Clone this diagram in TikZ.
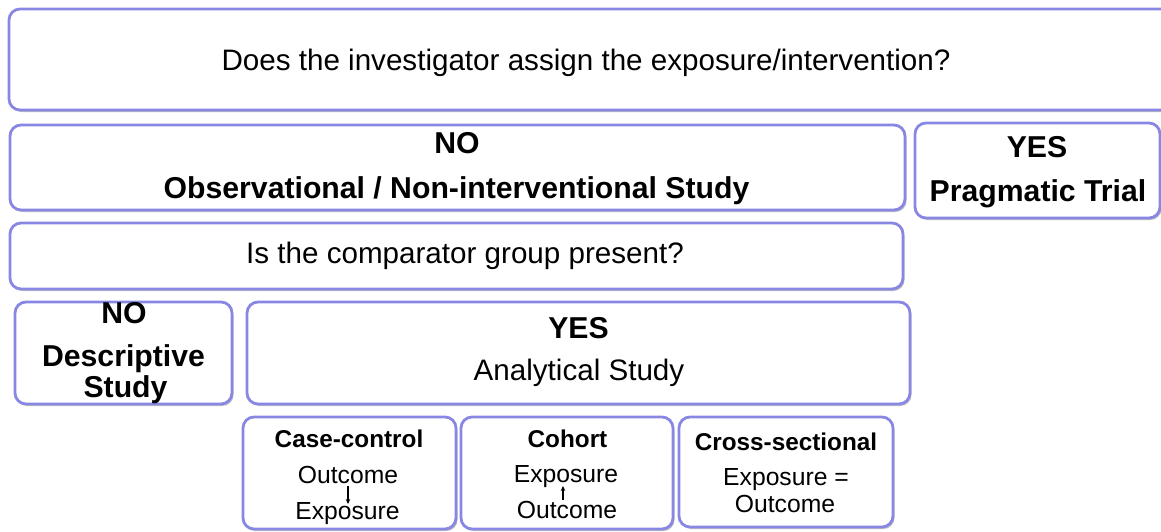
\documentclass[tikz,border=0pt]{standalone}
\usepackage{fontspec}
\setmainfont{Liberation Sans}
\usetikzlibrary{shadows,arrows.meta}
\definecolor{boxline}{RGB}{136,136,228}
\tikzset{
  box/.style={draw=boxline, line width=2.8pt, rounded corners=11pt, fill=white,
    drop shadow={shadow xshift=1.5pt, shadow yshift=-2pt, opacity=0.4, fill=black!60},
    inner sep=0pt},
  big/.style={anchor=base, inner sep=0pt, font=\fontsize{29.6}{33}\selectfont},
  bigb/.style={anchor=base, inner sep=0pt, font=\fontsize{30.2}{33}\selectfont\bfseries},
  small/.style={anchor=base, inner sep=0pt, font=\fontsize{24.7}{28}\selectfont},
  smallb/.style={anchor=base, inner sep=0pt, font=\fontsize{24.3}{28}\selectfont\bfseries},
  tinyarrow/.style={-{Stealth[length=5pt,width=4.5pt]}, line width=1.1pt}
}
\begin{document}
\begin{tikzpicture}[x=1pt,y=-1pt]
\useasboundingbox (0,0) rectangle (1161,531);
\clip (0,0) rectangle (1161,531);
\fill[white] (0,0) rectangle (1161,531);
% boxes
\node[box, minimum width=1166pt, minimum height=101pt] (top) at (592,59.5) {};
\node[box, minimum width=895pt, minimum height=85pt] (obs) at (457.5,167.5) {};
\node[box, minimum width=245pt, minimum height=95pt] (prag) at (1037.5,170.5) {};
\node[box, minimum width=893pt, minimum height=66pt] (comp) at (456.5,256) {};
\node[box, minimum width=217pt, minimum height=102pt] (desc) at (123.5,353) {};
\node[box, minimum width=663pt, minimum height=102pt] (anal) at (578.5,353) {};
\node[box, minimum width=213pt, minimum height=112pt] (cc) at (349.5,473) {};
\node[box, minimum width=212pt, minimum height=112pt] (coh) at (567,473) {};
\node[box, minimum width=214pt, minimum height=110pt] (cs) at (786,472) {};
% texts
\node[big] (q1) at (586,70) {Does the investigator assign the exposure/intervention?};
\node[bigb] (obsno) at (457,153) {NO};
\node[bigb] (obstxt) at (456.5,198) {Observational / Non-interventional Study};
\node[bigb] (pragyes) at (1037,157) {YES};
\node[bigb] (pragtxt) at (1038,201) {Pragmatic Trial};
\node[big] (q2) at (465,263) {Is the comparator group present?};
\node[bigb] (descno) at (124,323) {NO};
\node[bigb] (desc1) at (123.5,366) {Descriptive};
\node[bigb] (desc2) at (125.5,397) {Study};
\node[bigb] (analyes) at (578.5,338) {YES};
\node[big] (analtxt) at (579,380) {Analytical Study};
\node[smallb] (cct) at (349,447) {Case-control};
\node[small] (cco) at (348,483) {Outcome};
\node[small] (cce) at (347.5,519) {Exposure};
\node[smallb] (coht) at (567.5,447) {Cohort};
\node[small] (cohe) at (566,482) {Exposure};
\node[small] (coho) at (567,518) {Outcome};
\node[smallb] (cst) at (786,450) {Cross-sectional};
\node[small] (cse) at (786,485) {Exposure =};
\node[small] (cso) at (785,512) {Outcome};
% small arrows
\coordinate (cca) at (348,486);
\coordinate (ccb) at (348,504);
\coordinate (coha) at (563,500);
\coordinate (cohb) at (563,486);
\draw[tinyarrow] (cca) -- (ccb);
\draw[tinyarrow] (coha) -- (cohb);
\end{tikzpicture}
\end{document}
